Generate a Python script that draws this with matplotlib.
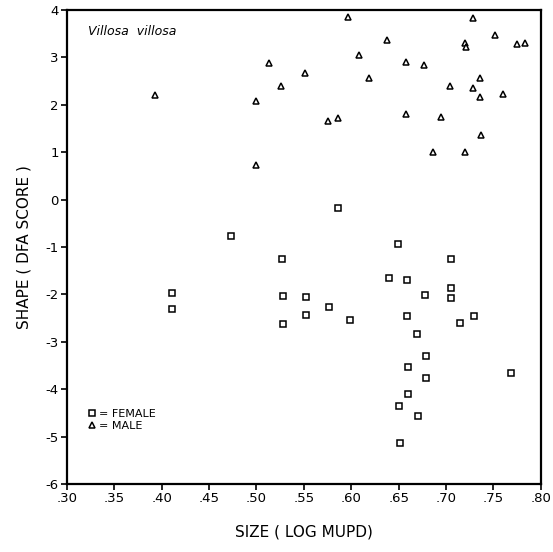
import matplotlib.pyplot as plt
import numpy as np

# female (squares)
female_size = [0.473, 0.527, 0.411, 0.411, 0.528, 0.552, 0.552, 0.528,
               0.586, 0.649, 0.705, 0.640, 0.659, 0.705, 0.705, 0.678,
               0.577, 0.599, 0.659, 0.715, 0.730, 0.669, 0.679, 0.660,
               0.679, 0.769, 0.660, 0.650, 0.670, 0.651]
female_shape = [-0.77, -1.25, -1.96, -2.31, -2.03, -2.06, -2.43, -2.62,
                -0.17, -0.94, -1.25, -1.66, -1.70, -1.86, -2.07, -2.01,
                -2.26, -2.54, -2.45, -2.61, -2.45, -2.84, -3.29, -3.53,
                -3.77, -3.66, -4.09, -4.35, -4.57, -5.13]

# male (triangles)
male_size = [0.393, 0.513, 0.551, 0.526, 0.500, 0.500, 0.597, 0.728,
             0.638, 0.752, 0.720, 0.721, 0.775, 0.783, 0.608, 0.658,
             0.677, 0.619, 0.736, 0.704, 0.728, 0.736, 0.760, 0.575,
             0.586, 0.658, 0.695, 0.737, 0.686, 0.720]
male_shape = [2.21, 2.88, 2.66, 2.40, 2.07, 0.72, 3.85, 3.82,
              3.37, 3.48, 3.30, 3.22, 3.28, 3.31, 3.05, 2.91,
              2.84, 2.56, 2.56, 2.40, 2.36, 2.16, 2.22, 1.66,
              1.72, 1.80, 1.75, 1.36, 1.01, 1.01]

xticks = np.arange(0.30, 0.801, 0.05)
xticklabels = ['.30', '.35', '.40', '.45', '.50', '.55', '.60', '.65', '.70', '.75', '.80']
yticks = list(range(-6, 5))


def main():
    plt.rcParams['axes.unicode_minus'] = False
    fig = plt.figure(figsize=(5.53, 5.52), dpi=100)
    ax = fig.add_axes([0.121, 0.123, 0.857, 0.859])

    ax.plot(female_size, female_shape, 's', ms=4.3, mfc='white', mec='black',
            mew=1.1, ls='none', label='= FEMALE')
    ax.plot(male_size, male_shape, '^', ms=4.8, mfc='white', mec='black',
            mew=1.1, ls='none', label='= MALE')

    ax.set_xlim(0.30, 0.80)
    ax.set_ylim(-6, 4)
    ax.set_xticks(xticks)
    ax.set_xticklabels(xticklabels)
    ax.set_yticks(yticks)
    ax.tick_params(direction='out', length=4, width=1.2, labelsize=9.5, pad=2)
    for sp in ax.spines.values():
        sp.set_linewidth(1.6)

    ax.set_xlabel('SIZE ( LOG MUPD)', fontsize=11, labelpad=14)
    ax.set_ylabel('SHAPE ( DFA SCORE )', fontsize=11, labelpad=10)

    ax.text(0.045, 0.955, 'Villosa  villosa', transform=ax.transAxes,
            fontsize=9, style='italic', va='center', ha='left')

    ax.legend(loc='center left', bbox_to_anchor=(0.035, 0.135), frameon=False,
              fontsize=8, handlelength=0.6, handletextpad=0.3,
              labelspacing=0.2, borderpad=0)

    plt.savefig('out.png', dpi=100)


if __name__ == '__main__':
    main()
